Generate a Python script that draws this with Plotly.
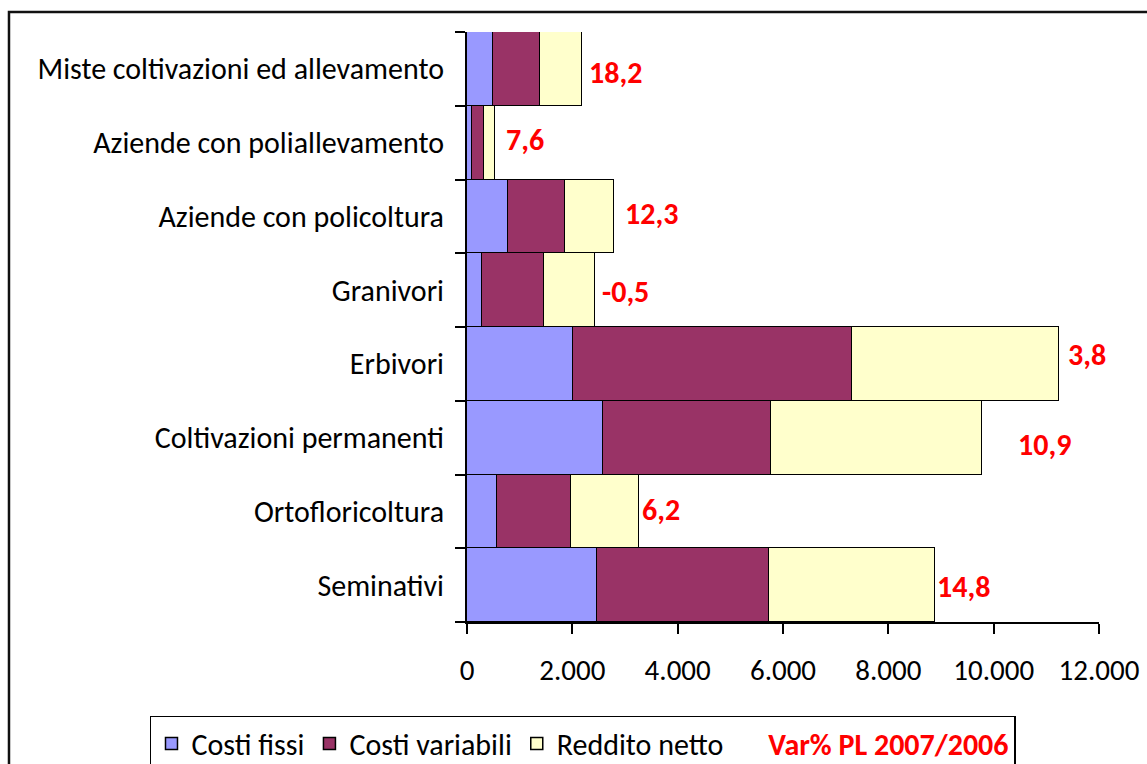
import plotly.graph_objects as go

# categories listed bottom -> top (as Excel draws them)
categorie = [
    "Seminativi",
    "Ortofloricoltura",
    "Coltivazioni permanenti",
    "Erbivori",
    "Granivori",
    "Aziende con policoltura",
    "Aziende con poliallevamento",
    "Miste coltivazioni ed allevamento",
]
costi_fissi = [2464, 566, 2573, 2005, 279, 785, 101, 487]
costi_variabili = [3266, 1409, 3195, 5297, 1189, 1076, 216, 905]
reddito_netto = [3156, 1283, 4010, 3938, 968, 930, 215, 798]
var_pl = [14.8, 6.2, 10.9, 3.8, -0.5, 12.3, 7.6, 18.2]

# small nudges of the red labels, as placed in the original
label_dx = [0, 1, 34, 7, 5, 9, 9, 5]
label_dy = [-1.5, 2, -7, 9, -1.5, 3, 3.5, -4]

FONT = "Carlito, Calibri, Lato, sans-serif"

fig = go.Figure()
serie = [
    ("Costi fissi", costi_fissi, "#9999FF"),
    ("Costi variabili", costi_variabili, "#993366"),
    ("Reddito netto", reddito_netto, "#FFFFCC"),
]
for nome, valori, colore in serie:
    fig.add_trace(go.Bar(
        y=categorie, x=valori, name=nome, orientation="h",
        marker=dict(color=colore, line=dict(color="black", width=1.5)),
    ))

# legend-only entry for the red labels
fig.add_trace(go.Scatter(
    x=[None], y=[None], mode="markers",
    marker=dict(color="rgba(0,0,0,0)", size=1),
    name="<b><span style='color:#FF0000'>Var% PL 2007/2006</span></b>",
))

totali = [a + b + c for a, b, c in zip(costi_fissi, costi_variabili, reddito_netto)]
for cat, tot, v, dx, dy in zip(categorie, totali, var_pl, label_dx, label_dy):
    fig.add_annotation(
        x=tot, y=cat, text="<b>" + f"{v:.1f}".replace(".", ",") + "</b>",
        showarrow=False, xanchor="left", yanchor="middle",
        xshift=dx, yshift=dy,
        font=dict(family=FONT, size=30, color="#FF0000"),
    )

# outer chart frame (runs off the right and bottom of the picture)
fig.add_shape(type="rect", xref="paper", yref="paper",
              x0=-0.7247, x1=1.09, y0=-0.35, y1=1.034,
              line=dict(color="#111111", width=2.5))

fig.update_layout(
    width=1147, height=764,
    margin=dict(l=467, r=48, t=32, b=142, autoexpand=False),
    barmode="stack", bargap=0,
    separators=",.",
    paper_bgcolor="white", plot_bgcolor="white",
    font=dict(family=FONT, size=30, color="black"),
    showlegend=True,
    legend=dict(
        orientation="h", x=-0.5016, y=-0.1593, xanchor="left", yanchor="top",
        bordercolor="black", borderwidth=1.5, bgcolor="white",
        font=dict(family=FONT, size=30, color="black"),
        traceorder="normal",
    ),
    xaxis=dict(
        range=[0, 12000], dtick=2000, tickformat=",d",
        showline=True, linecolor="black", linewidth=2,
        ticks="outside", ticklen=10, tickwidth=2, tickcolor="black",
        showgrid=False, zeroline=False, ticklabelstandoff=11,
        tickfont=dict(family=FONT, size=29),
    ),
    yaxis=dict(
        showline=True, linecolor="black", linewidth=2,
        ticks="outside", ticklen=10, tickwidth=2, tickcolor="black",
        tickson="boundaries", showgrid=False, zeroline=False,
        ticklabelstandoff=15,
        tickfont=dict(family=FONT, size=30),
    ),
)

# the page body has an 8px default margin; drop it so the figure sits at 0,0
fig.write_html("out.html", config={"displayModeBar": False},
               post_script="document.body.style.margin='0px';")
